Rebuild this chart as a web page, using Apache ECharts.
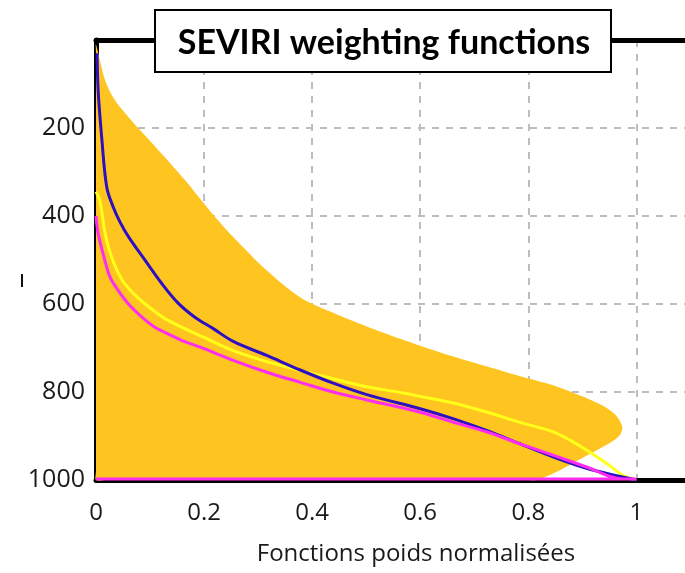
<!DOCTYPE html>
<html>
<head>
<meta charset="utf-8">
<script src="https://cdn.jsdelivr.net/npm/echarts@6/dist/echarts.min.js"></script>
<style>
  html, body { margin: 0; padding: 0; background: #fff; }
  #chart { width: 685px; height: 573px; }
</style>
</head>
<body>
<div id="chart"></div>
<script>
/* SEVIRI weighting functions */

var xTicks = [0, 0.2, 0.4, 0.6, 0.8, 1];
var pTicks = [200, 400, 600, 800, 1000];

// orange envelope (weight, pressure hPa), outline going round
var envX = [0, 0.017, 0.035, 0.06, 0.078, 0.122, 0.165, 0.2, 0.226, 0.254, 0.316, 0.378, 0.439, 0.501, 0.563, 0.637, 0.724, 0.785, 0.847, 0.896, 0.939, 0.962, 0.974, 0.968, 0.945, 0.9, 0.85, 0.816, 0.8, 0.02, 0, 0, 0];
var envP = [10, 92, 137, 175, 200, 259, 319, 372, 410, 448, 524, 585, 620, 651, 679, 710, 742, 764, 785, 808, 832, 853, 880, 900, 920, 950, 983, 1000, 1000, 1000, 1000, 980, 30];

var blueX = [0.002, 0.004, 0.011, 0.02, 0.032, 0.045, 0.06, 0.091, 0.122, 0.152, 0.183, 0.217, 0.254, 0.316, 0.378, 0.439, 0.501, 0.6, 0.662, 0.724, 0.785, 0.847, 0.909, 1.0];
var blueP = [30, 115, 228, 335, 380, 415, 447, 501, 554, 598, 630, 656, 685, 717, 750, 780, 806, 838, 861, 888, 918, 948, 974, 1000];

var yellowX = [0, 0.007, 0.017, 0.029, 0.048, 0.07, 0.091, 0.13, 0.2, 0.254, 0.316, 0.378, 0.439, 0.501, 0.563, 0.6, 0.661, 0.724, 0.785, 0.847, 0.878, 0.909, 0.946, 0.976, 1.0];
var yellowP = [345, 365, 440, 494, 545, 577, 600, 635, 676, 706, 731, 751, 770, 788, 801, 810, 825, 846, 869, 891, 910, 933, 963, 990, 1000];

var magentaX = [0, 0.004, 0.014, 0.026, 0.041, 0.06, 0.085, 0.109, 0.14, 0.159, 0.193, 0.254, 0.316, 0.378, 0.439, 0.501, 0.6, 0.662, 0.724, 0.785, 0.847, 0.909, 0.97, 1.0, 0];
var magentaP = [400, 440, 490, 539, 569, 600, 630, 653, 672, 683, 698, 728, 755, 778, 800, 818, 846, 869, 891, 918, 944, 971, 997, 998, 998];

function pairs(xs, ps) {
	var re = [];
	for (var i = 0; i < xs.length; i++) re.push([xs[i], ps[i]]);
	return re;
}

var myChart = echarts.init(document.getElementById('chart'), null, {renderer: 'canvas'});
var font = 'Open Sans';

option = {
	animation: false,
	backgroundColor: '#fff',
	grid: { left: 96, right: 0, top: 40, bottom: 93 },
	xAxis: [{
		type: 'value',
		min: 0,
		max: 1.09,
		interval: 0.2,
		position: 'bottom',
		axisLine: { show: true, onZero: false, lineStyle: { color: '#000', width: 5 } },
		axisTick: { show: false },
		axisLabel: {
			margin: 21, fontSize: 24, color: '#1a1a1a', fontFamily: font,
			showMaxLabel: false,
			formatter: function (v) { return xTicks.indexOf(Math.round(v * 10) / 10) >= 0 ? String(Math.round(v * 10) / 10) : ''; }
		},
		splitLine: { show: true, showMinLine: false, showMaxLine: false, lineStyle: { color: '#bdbdbd', width: 2, type: [7, 7] } }
	}, {
		type: 'value',
		min: 0,
		max: 1.09,
		position: 'top',
		axisLine: { show: true, onZero: false, lineStyle: { color: '#000', width: 5 } },
		axisTick: { show: false },
		axisLabel: { show: false },
		splitLine: { show: false }
	}],
	yAxis: {
		type: 'value',
		inverse: true,
		min: 0,
		max: 1000,
		interval: 200,
		axisLine: { show: true, onZero: false, lineStyle: { color: '#000', width: 5 } },
		axisTick: { show: false },
		axisLabel: {
			margin: 11, fontSize: 25, color: '#1a1a1a', fontFamily: font,
			formatter: function (v) { return pTicks.indexOf(v) >= 0 ? String(v) : ''; }
		},
		splitLine: { show: true, showMinLine: false, showMaxLine: false, lineStyle: { color: '#bdbdbd', width: 2, type: [7, 7] } }
	},
	series: [{
		type: 'custom',
		name: 'envelope',
		data: pairs(envX, envP),
		encode: { x: 0, y: 1 },
		z: 1,
		renderItem: function (params, api) {
			if (params.dataIndex !== 0) return;
			var pts = [];
			for (var i = 0; i < envX.length; i++) pts.push(api.coord([envX[i], envP[i]]));
			return { type: 'polygon', shape: { points: pts, smooth: 0.3 }, style: { fill: '#fec41f' } };
		}
	}, {
		type: 'line',
		name: 'yellow',
		data: pairs(yellowX, yellowP),
		showSymbol: false,
		smooth: 0.35,
		z: 3,
		lineStyle: { color: '#ffff1a', width: 3 }
	}, {
		type: 'line',
		name: 'blue',
		data: pairs(blueX, blueP),
		showSymbol: false,
		smooth: 0.35,
		z: 4,
		lineStyle: { color: '#2d0fc4', width: 3 }
	}, {
		type: 'line',
		name: 'magenta',
		data: pairs(magentaX, magentaP),
		showSymbol: false,
		smooth: 0.35,
		z: 5,
		lineStyle: { color: '#ff2cf2', width: 3 }
	}],
	graphic: [{
		type: 'rect',
		z: 100,
		shape: { x: 155, y: 10, width: 456, height: 62 },
		style: { fill: '#fff', stroke: '#000', lineWidth: 2 }
	}, {
		type: 'text',
		z: 101,
		x: 384, y: 43,
		style: { text: 'SEVIRI weighting functions', fill: '#000', font: 'bold 34px Lato', align: 'center', verticalAlign: 'middle' }
	}, {
		type: 'text',
		x: 416, y: 554,
		style: { text: 'Fonctions poids normalisées', fill: '#1a1a1a', font: '24px "Open Sans"', align: 'center', verticalAlign: 'middle' }
	}, {
		type: 'rect',
		shape: { x: 21, y: 274, width: 2, height: 13 },
		style: { fill: '#111' }
	}]
};

myChart.setOption(option);
</script>
</body>
</html>
